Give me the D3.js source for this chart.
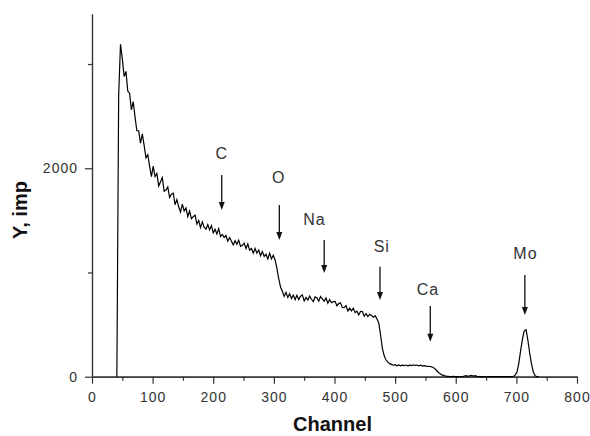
<!DOCTYPE html>
<html>
<head>
<meta charset="utf-8">
<script src="https://cdn.jsdelivr.net/npm/d3@7"></script>
<style>
  body { margin: 0; background: #fff; }
  text { font-family: "Liberation Sans", Arial, sans-serif; }
</style>
</head>
<body>
<div id="chart"></div>
<script>
// Spectrum data (counts every 3 channels, starting at channel 41)
var firstChannel = 41;
var channelStep = 3;
var counts = [
  0, 2700, 3190, 3050, 2880, 2930, 2740, 2720, 2560, 2640,        // 41..68
  2490, 2360, 2360, 2240, 2330, 2220, 2100, 2130, 2020, 1920,     // 71..98
  2020, 1920, 1950, 1830, 1870, 1910, 1780, 1790, 1820, 1720,     // 101..128
  1750, 1760, 1650, 1700, 1630, 1580, 1655, 1590, 1620, 1535,     // 131..158
  1590, 1515, 1535, 1550, 1465, 1500, 1430, 1485, 1435, 1415,     // 161..188
  1460, 1410, 1450, 1380, 1415, 1370, 1420, 1345, 1365, 1335,     // 191..218
  1355, 1300, 1335, 1300, 1265, 1305, 1270, 1310, 1250, 1260,     // 221..248
  1280, 1230, 1275, 1215, 1230, 1185, 1230, 1185, 1215, 1160,     // 251..278
  1200, 1155, 1175, 1130, 1185, 1130, 1165, 1120, 1040, 940,      // 281..308
  860, 820, 770, 810, 760, 795, 750, 783, 740, 782,               // 311..338
  740, 773, 785, 727, 760, 735, 773, 743, 721, 765,               // 341..368
  755, 725, 769, 747, 725, 755, 705, 740, 710, 720,               // 371..398
  723, 680, 702, 710, 663, 665, 682, 630, 658, 632,               // 401..428
  656, 615, 629, 593, 627, 626, 580, 606, 577, 598,               // 431..458
  588, 570, 585, 555, 515, 400, 270, 200, 160, 140,               // 461..488
  125, 118, 110, 115, 105, 112, 104, 110, 106, 112,               // 491..518
  104, 110, 106, 114, 108, 112, 104, 110, 102, 106,               // 521..548
  102, 98, 100, 95, 88, 75, 55, 38, 25, 15,                       // 551..578
  10, 6, 4, 2, 0, 4, 0, 2, 0, 0,                                  // 581..608
  0, 6, 10, 4, 8, 12, 5, 10, 3, 0,                                // 611..638
  0, 0, 0, 0, 0, 0, 0, 0, 0, 0,                                   // 641..668
  0, 0, 0, 0, 0, 0, 0, 0, 2, 15,                                  // 671..698
  45, 128, 250, 360, 440, 450, 350, 225, 120, 45,                 // 701..728
  10, 0, 0                                                        // 731..737
];

// Element markers: arrow channel, arrow top / tip (counts), label position
var elements = ["C", "O", "Na", "Si", "Ca", "Mo"];
var arrowChannels = [214, 309, 383, 475, 558, 714];
var arrowTops = [1936, 1648, 1312, 1056, 679, 976];
var arrowTips = [1600, 1312, 995, 736, 336, 592];
var labelChannels = [214, 308, 367, 478, 554, 715];
var labelCounts = [2090, 1858, 1460, 1200, 784, 1130];

// Axis ticks
var xMajorTicks = [0, 100, 200, 300, 400, 500, 600, 700, 800];
var xMinorTicks = [50, 150, 250, 350, 450, 550, 650, 750];
var yMajorTicks = [0, 2000];
var yMinorTicks = [1000, 3000];

var svgWidth = 590;
var svgHeight = 436;

var margin = {
  top: 14,
  right: 13,
  bottom: 59.3,
  left: 92
};

var width = svgWidth - margin.left - margin.right;
var height = svgHeight - margin.top - margin.bottom;

var svg = d3.select("#chart")
  .append("svg")
  .attr("width", svgWidth)
  .attr("height", svgHeight);

var chartGroup = svg.append("g")
  .attr("transform", `translate(${margin.left}, ${margin.top})`);

var xLinearScale = d3.scaleLinear()
  .domain([0, 800])
  .range([0, width]);

var yLinearScale = d3.scaleLinear()
  .domain([0, 3480])
  .range([height, 0]);

// build the spectrum points
var spectrum = counts.map(function (c, i) {
  return { channel: firstChannel + i * channelStep, count: c };
});

// Axes: major ticks with labels, minor ticks without
var bottomAxis = d3.axisBottom(xLinearScale)
  .tickValues(xMajorTicks)
  .tickSize(7)
  .tickSizeOuter(0)
  .tickPadding(8)
  .tickFormat(d3.format("d"));

var bottomMinor = d3.axisBottom(xLinearScale)
  .tickValues(xMinorTicks)
  .tickSize(4)
  .tickSizeOuter(0)
  .tickFormat("");

var leftAxis = d3.axisLeft(yLinearScale)
  .tickValues(yMajorTicks)
  .tickSize(7)
  .tickSizeOuter(0)
  .tickPadding(7)
  .tickFormat(d3.format("d"));

var leftMinor = d3.axisLeft(yLinearScale)
  .tickValues(yMinorTicks)
  .tickSize(4)
  .tickSizeOuter(0)
  .tickFormat("");

var xAxis = chartGroup.append("g")
  .attr("transform", `translate(0, ${height})`)
  .call(bottomAxis);
chartGroup.append("g")
  .attr("transform", `translate(0, ${height})`)
  .call(bottomMinor);

var yAxis = chartGroup.append("g")
  .call(leftAxis);
chartGroup.append("g")
  .call(leftMinor);

// axis styling
chartGroup.selectAll(".domain, .tick line")
  .attr("stroke", "#333")
  .attr("stroke-width", 1.2);
chartGroup.selectAll(".tick text")
  .attr("fill", "#333")
  .attr("font-size", 14)
  .attr("letter-spacing", 1);

// Spectrum line
var line = d3.line()
  .x(d => xLinearScale(d.channel))
  .y(d => yLinearScale(d.count));

chartGroup.append("path")
  .datum(spectrum)
  .attr("d", line)
  .attr("fill", "none")
  .attr("stroke", "#000")
  .attr("stroke-width", 1.2)
  .attr("stroke-linejoin", "miter");

// Arrows marking the elements
var markers = elements.map(function (el, i) {
  return {
    name: el,
    channel: arrowChannels[i],
    top: arrowTops[i],
    tip: arrowTips[i],
    labelChannel: labelChannels[i],
    labelCount: labelCounts[i]
  };
});

var markerGroup = chartGroup.selectAll(".marker")
  .data(markers)
  .enter()
  .append("g")
  .attr("class", "marker");

markerGroup.append("line")
  .attr("x1", d => xLinearScale(d.channel))
  .attr("x2", d => xLinearScale(d.channel))
  .attr("y1", d => yLinearScale(d.top))
  .attr("y2", d => yLinearScale(d.tip) - 4)
  .attr("stroke", "#111")
  .attr("stroke-width", 1.3);

markerGroup.append("path")
  .attr("d", function (d) {
    var x = xLinearScale(d.channel);
    var y = yLinearScale(d.tip);
    return `M${x - 3},${y - 8}L${x + 3},${y - 8}L${x},${y}Z`;
  })
  .attr("fill", "#111");

markerGroup.append("text")
  .attr("x", d => xLinearScale(d.labelChannel))
  .attr("y", d => yLinearScale(d.labelCount))
  .attr("text-anchor", "middle")
  .attr("font-size", 16)
  .attr("letter-spacing", 1)
  .attr("fill", "#333")
  .text(d => d.name);

// Axis titles
svg.append("text")
  .attr("x", margin.left + width / 2 - 2)
  .attr("y", 431)
  .attr("text-anchor", "middle")
  .attr("font-size", 20)
  .attr("font-weight", "bold")
  .attr("fill", "#111")
  .text("Channel");

svg.append("text")
  .attr("transform", "translate(27, 210) rotate(-90)")
  .attr("text-anchor", "middle")
  .attr("font-size", 20)
  .attr("font-weight", "bold")
  .attr("fill", "#111")
  .text("Y, imp");
</script>
</body>
</html>
